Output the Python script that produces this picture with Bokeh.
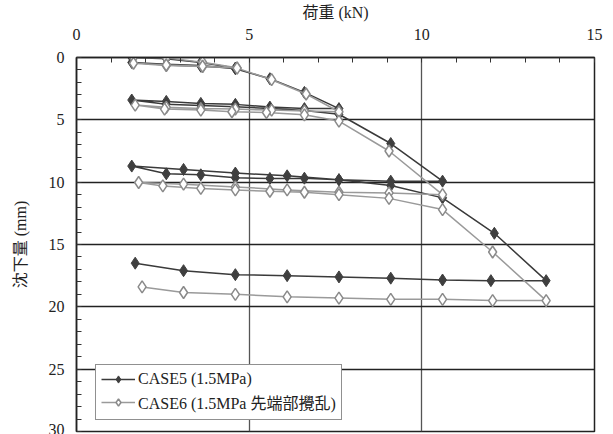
from bokeh.plotting import figure
from bokeh.models import Range1d, SingleIntervalTicker, LinearAxis, Legend, LegendItem, ColumnDataSource, Grid
from bokeh.embed import file_html
from bokeh.resources import INLINE

# CASE5 (1.5MPa): load (kN) and settlement (mm), in loading order
case5_load = [1.6, 2.6, 3.6, 4.6, 3.6, 2.6, 1.6, 2.6, 3.6, 4.6, 5.6, 6.6, 7.6,
              6.6, 5.6, 4.6, 3.6, 2.6, 1.6, 2.6, 3.6, 4.6, 5.6, 6.6, 7.6, 9.1, 10.6,
              9.1, 7.6, 6.1, 4.6, 3.1, 1.6, 2.6, 3.6, 4.6, 5.6, 6.6, 7.6, 9.1, 10.6, 12.1, 13.6,
              12.0, 10.6, 9.1, 7.6, 6.1, 4.6, 3.1, 1.7]
case5_settle = [0.0, 0.1, 0.4, 0.85, 0.7, 0.6, 0.4, 0.55, 0.65, 0.9, 1.7, 2.8, 4.1,
                4.1, 3.98, 3.76, 3.68, 3.52, 3.41, 3.75, 3.85, 3.95, 4.1, 4.25, 4.55, 6.9, 9.92,
                9.92, 9.8, 9.49, 9.27, 8.98, 8.71, 9.33, 9.41, 9.65, 9.7, 9.68, 9.81, 10.27, 11.26, 14.1, 17.9,
                17.9, 17.85, 17.7, 17.6, 17.5, 17.42, 17.1, 16.5]

# CASE6 (1.5MPa 先端部攪乱)
case6_load = [1.65, 2.6, 3.65, 4.65, 3.65, 2.6, 1.65, 2.6, 3.65, 4.65, 5.65, 6.65, 7.6,
              6.6, 5.65, 4.6, 3.6, 2.6, 1.7, 2.55, 3.6, 4.5, 5.5, 6.6, 7.6, 9.05, 10.6,
              9.05, 7.6, 6.1, 4.6, 3.1, 1.8, 2.5, 3.6, 4.6, 5.6, 6.6, 7.6, 9.05, 10.6, 12.05, 13.6,
              12.05, 10.6, 9.1, 7.6, 6.1, 4.6, 3.1, 1.9]
case6_settle = [0.0, 0.03, 0.38, 0.83, 0.73, 0.65, 0.46, 0.6, 0.7, 0.85, 1.78, 2.93, 4.35,
                4.3, 4.22, 4.14, 4.1, 4.0, 3.82, 4.14, 4.22, 4.35, 4.41, 4.6, 5.1, 7.5, 11.0,
                10.86, 10.8, 10.62, 10.38, 10.16, 10.03, 10.3, 10.5, 10.62, 10.73, 10.81, 11.0, 11.3, 12.2, 15.6, 19.5,
                19.5, 19.4, 19.4, 19.3, 19.2, 19.0, 18.85, 18.4]

x_ticks_interval = 5
y_ticks_interval = 5

FONT = "Liberation Serif, Noto Sans CJK JP"

p = figure(width=608, height=434, output_backend="svg", toolbar_location=None,
           x_range=Range1d(0, 15), y_range=Range1d(30, 0),
           x_axis_location=None, y_axis_location=None,
           min_border_left=76, min_border_top=57, min_border_right=14, min_border_bottom=3)
p.background_fill_color = "white"
p.border_fill_color = "white"
p.outline_line_color = "#222222"
p.outline_line_width = 1.5

xaxis = LinearAxis(ticker=SingleIntervalTicker(interval=x_ticks_interval, num_minor_ticks=5),
                   axis_label="荷重 (kN)")
yaxis = LinearAxis(ticker=SingleIntervalTicker(interval=y_ticks_interval, num_minor_ticks=5),
                   axis_label="沈下量 (mm)")
for ax in (xaxis, yaxis):
    ax.axis_line_color = "#222222"
    ax.axis_line_width = 1.5
    ax.major_tick_in = 0
    ax.major_tick_out = 0
    ax.minor_tick_in = 5
    ax.minor_tick_out = 0
    ax.minor_tick_line_color = "#333333"
    ax.major_label_text_font = FONT
    ax.major_label_text_font_size = "16px"
    ax.major_label_text_color = "#222222"
    ax.axis_label_text_font = FONT
    ax.axis_label_text_font_size = "16px"
    ax.axis_label_text_font_style = "normal"
    ax.axis_label_text_color = "#222222"
xaxis.major_label_standoff = 18
xaxis.axis_label_standoff = 5
yaxis.major_label_standoff = 12
yaxis.axis_label_standoff = 17
p.add_layout(xaxis, "above")
p.add_layout(yaxis, "left")

p.xgrid.grid_line_color = None
p.ygrid.grid_line_color = None
p.add_layout(Grid(dimension=0, ticker=xaxis.ticker, grid_line_color="#555555", grid_line_width=1.3))
p.add_layout(Grid(dimension=1, ticker=yaxis.ticker, grid_line_color="#222222", grid_line_width=1.3))

s5 = ColumnDataSource(dict(x=case5_load, y=case5_settle))
s6 = ColumnDataSource(dict(x=case6_load, y=case6_settle))

l5 = p.line("x", "y", source=s5, line_color="#3a3a3a", line_width=1.5)
m5 = p.scatter("x", "y", source=s5, marker="diamond", size=12, fill_color="#3f3f3f",
               line_color="#3f3f3f", line_width=1)
l6 = p.line("x", "y", source=s6, line_color="#9a9a9a", line_width=1.5)
m6 = p.scatter("x", "y", source=s6, marker="diamond", size=12, fill_color="white",
               line_color="#8a8a8a", line_width=1.5)

legend = Legend(items=[LegendItem(label="CASE5 (1.5MPa)", renderers=[l5, m5]),
                       LegendItem(label="CASE6 (1.5MPa 先端部攪乱)", renderers=[l6, m6])],
                location=(19, 11))
legend.label_text_font = FONT
legend.label_text_font_size = "16px"
legend.label_text_color = "#222222"
legend.label_height = 18
legend.border_line_color = "#222222"
legend.border_line_width = 1
legend.background_fill_alpha = 1
legend.glyph_width = 34
legend.glyph_height = 18
legend.spacing = 2
legend.padding = 5
legend.margin = 0
legend.label_standoff = 3
p.add_layout(legend, "center")

open("out.html", "w").write(file_html(p, INLINE))
